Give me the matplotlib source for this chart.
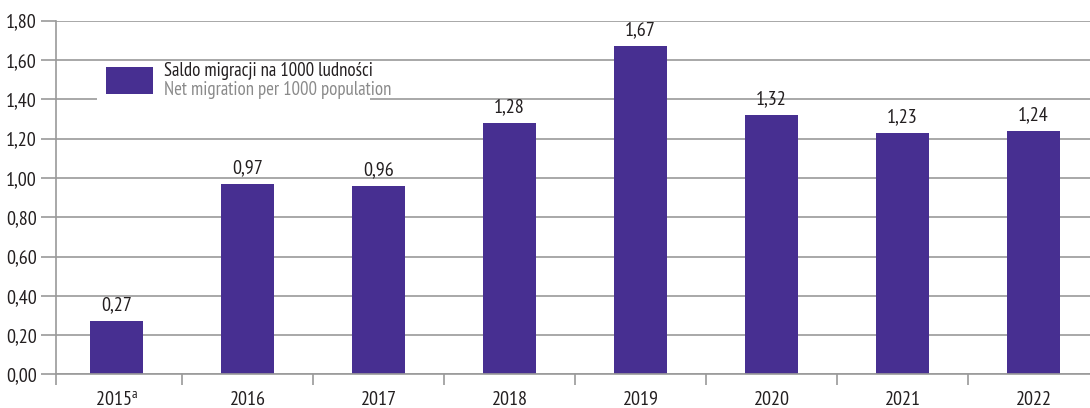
import matplotlib.pyplot as plt
from matplotlib.patches import Rectangle
from matplotlib.ticker import FixedLocator

years = ['2015', '2016', '2017', '2018', '2019', '2020', '2021', '2022']
values = [0.27, 0.97, 0.96, 1.28, 1.67, 1.32, 1.23, 1.24]
value_labels = ['0,27', '0,97', '0,96', '1,28', '1,67', '1,32', '1,23', '1,24']
yticks = [0.0, 0.2, 0.4, 0.6, 0.8, 1.0, 1.2, 1.4, 1.6, 1.8]
legend_pl = 'Saldo migracji na 1000 ludności'
legend_en = 'Net migration per 1000 population'

plt.rcParams['font.family'] = ['PT Sans Narrow', 'DejaVu Sans']

bar_color = '#472f91'
grid_color = '#9a9a9a'
text_color = '#231f20'

fig = plt.figure(figsize=(10.9, 4.08), dpi=100)
ax = fig.add_axes([56 / 1090, 33.6 / 408, 1 - 56 / 1090, 353.7 / 408])

x = list(range(len(years)))
ax.bar(x, values, width=0.405, color=bar_color, zorder=2)

for xi, v, lab in zip(x, values, value_labels):
    ax.annotate(lab, (xi, v), xytext=(0, 5), textcoords='offset points',
                ha='center', va='bottom', fontsize=14.5, color=text_color, zorder=3)

ax.set_ylim(0, 1.8)
ax.set_xlim(-0.462, 7.43)
ax.set_yticks(yticks)
ax.set_yticklabels([f'{t:.2f}'.replace('.', ',') for t in yticks])
ax.yaxis.grid(True, color=grid_color, linewidth=1.2, zorder=0)
ax.set_axisbelow(True)

ax.set_xticks(x)
ax.set_xticklabels(['2015$^{\\mathregular{a}}$'] + years[1:])
ax.xaxis.set_minor_locator(FixedLocator([i + 0.5 for i in x[:-1]] + [-0.462]))
ax.tick_params(axis='x', which='major', length=0, pad=12, labelsize=14.5, labelcolor=text_color)
ax.tick_params(axis='x', which='minor', length=8, width=1.2, color=grid_color, direction='out')
ax.tick_params(axis='y', length=11, width=1.2, color=grid_color, pad=3, labelsize=14.5, labelcolor=text_color)

for s in ['top', 'right']:
    ax.spines[s].set_visible(False)
for s in ['left', 'bottom']:
    ax.spines[s].set_color(grid_color)
    ax.spines[s].set_linewidth(1.2)

# legend box drawn by hand (two-colour label)
ax.add_patch(Rectangle((0.04, 0.745), 0.264, 0.13, transform=ax.transAxes,
                       facecolor='white', edgecolor='none', zorder=1))
ax.add_patch(Rectangle((0.048, 0.792), 0.046, 0.078, transform=ax.transAxes,
                       facecolor=bar_color, edgecolor='none', zorder=2))
ax.text(0.104, 0.858, legend_pl, transform=ax.transAxes, fontsize=13.5,
        color=text_color, va='center', ha='left', zorder=3)
ax.text(0.104, 0.805, legend_en, transform=ax.transAxes, fontsize=13.5,
        color='#8a8a8a', va='center', ha='left', zorder=3)

fig.savefig('out.png', dpi=100)
